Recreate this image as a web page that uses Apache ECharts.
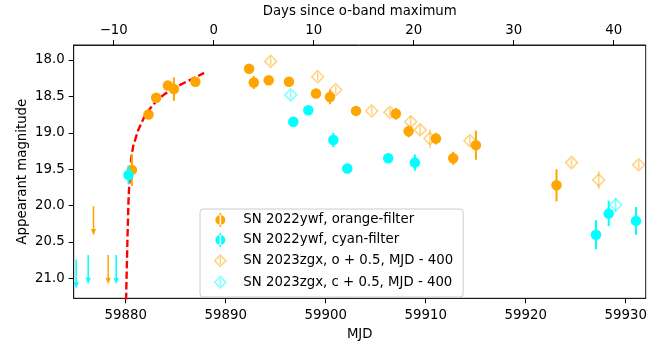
<!DOCTYPE html>
<html>
<head>
<meta charset="utf-8">
<script src="https://cdn.jsdelivr.net/npm/echarts@6/dist/echarts.min.js"></script>
<style>
  html, body { margin: 0; padding: 0; background: #ffffff; }
  #chart { width: 665px; height: 347px; }
</style>
</head>
<body>
<div id="chart"></div>
<script>
// ---- SN 2022ywf, orange filter (MJD, apparent magnitude, 1-sigma error) ----
const orangeMJD = [59880.62, 59882.28, 59883.05, 59884.22, 59884.82, 59886.97, 59892.34, 59892.81,
                   59894.30, 59896.33, 59899.03, 59900.43, 59903.03, 59907.02, 59908.29, 59911.02,
                   59912.75, 59915.02, 59923.08];
const orangeMag = [19.51, 18.75, 18.52, 18.35, 18.40, 18.30, 18.12, 18.31,
                   18.28, 18.30, 18.46, 18.51, 18.70, 18.74, 18.98, 19.08,
                   19.35, 19.17, 19.72];
const orangeErr = [0.22, 0.03, 0.03, 0.04, 0.16, 0.06, 0.06, 0.09,
                   0.03, 0.03, 0.03, 0.10, 0.03, 0.08, 0.08, 0.08,
                   0.09, 0.20, 0.22];

// ---- SN 2022ywf, cyan filter ----
const cyanMJD = [59880.28, 59896.76, 59898.26, 59900.76, 59902.16, 59906.25, 59908.92,
                 59927.03, 59928.30, 59931.03];
const cyanMag = [19.58, 18.85, 18.69, 19.10, 19.49, 19.35, 19.41, 20.40, 20.11, 20.21];
const cyanErr = [0.13, 0.03, 0.03, 0.10, 0.03, 0.05, 0.11, 0.20, 0.175, 0.19];

// ---- pre-explosion non-detections (upper limits) ----
const orangeLimMJD = [59876.78, 59878.25];
const orangeLimMag = [20.01, 20.68];
const cyanLimMJD = [59875.05, 59876.25, 59879.05];
const cyanLimMag = [20.74, 20.68, 20.68];
const limitArrowLength = 0.4; // magnitudes

// ---- SN 2023zgx, shifted by +0.5 mag and -400 d ----
const zgxOrangeMJD = [59894.50, 59899.20, 59901.00, 59904.60, 59906.42, 59908.50, 59909.45,
                      59910.42, 59914.42, 59924.58, 59927.30, 59931.30];
const zgxOrangeMag = [18.02, 18.23, 18.41, 18.70, 18.72, 18.85, 18.96,
                      19.08, 19.11, 19.41, 19.65, 19.44];
const zgxOrangeErr = [0.05, 0.05, 0.05, 0.05, 0.05, 0.07, 0.06,
                      0.13, 0.06, 0.05, 0.125, 0.06];
const zgxCyanMJD = [59896.50, 59929.00];
const zgxCyanMag = [18.48, 19.99];
const zgxCyanErr = [0.05, 0.10];

// ---- early-rise fit curve ----
const fitMJD = [59880.04, 59880.08, 59880.12, 59880.17, 59880.22, 59880.28, 59880.35, 59880.45,
                59880.58, 59880.75, 59880.95, 59881.25, 59881.58, 59881.95, 59882.42, 59882.95,
                59883.25, 59883.85, 59884.58, 59885.24, 59885.91, 59886.64, 59887.24, 59887.84];
const fitMag = [21.297, 21.024, 20.792, 20.479, 20.233, 19.933, 19.729, 19.524,
                19.319, 19.183, 19.094, 18.965, 18.862, 18.760, 18.671, 18.583,
                18.542, 18.473, 18.409, 18.357, 18.310, 18.262, 18.221, 18.177];

// ---- axes ----
const mjdRange = [59874.8, 59932.0];
const magRange = [17.795, 21.273];
const oBandMaxMJD = 59888.8;
const mjdTicks = [59880, 59890, 59900, 59910, 59920, 59930];
const dayTicks = [-10, 0, 10, 20, 30, 40];
const magTicks = [18.0, 18.5, 19.0, 19.5, 20.0, 20.5, 21.0];

const seriesNames = [
  'SN 2022ywf, orange-filter',
  'SN 2022ywf, cyan-filter',
  'SN 2023zgx, o + 0.5, MJD - 400',
  'SN 2023zgx, c + 0.5, MJD - 400'
];

const ORANGE = '#FFA500';
const CYAN = '#00FFFF';
const ORANGE_FADED = 'rgba(255,165,0,0.5)';
const CYAN_FADED = 'rgba(0,255,255,0.5)';
const FRAME = '#1a1a1a';
const FONT = 'DejaVu Sans';
const FS = 13.3;

const zip = (xs, ys) => xs.map((x, i) => [x, ys[i]]);

function errorBars(id, xs, ys, es, color, width, z) {
  return {
    id: id, type: 'custom', silent: true, z: z, clip: true, animation: false,
    data: xs.map((x, i) => [x, ys[i] - es[i], ys[i] + es[i]]),
    encode: { x: 0, y: [1, 2] },
    renderItem: function (params, api) {
      const a = api.coord([api.value(0), api.value(1)]);
      const b = api.coord([api.value(0), api.value(2)]);
      return {
        type: 'line',
        shape: { x1: a[0], y1: a[1], x2: b[0], y2: b[1] },
        style: { stroke: color, lineWidth: width }
      };
    }
  };
}

function limitArrows(id, xs, ys, color, z) {
  return {
    id: id, type: 'custom', silent: true, z: z, clip: true, animation: false,
    data: xs.map((x, i) => [x, ys[i], ys[i] + limitArrowLength]),
    encode: { x: 0, y: [1, 2] },
    renderItem: function (params, api) {
      const a = api.coord([api.value(0), api.value(1)]);
      const b = api.coord([api.value(0), api.value(2)]);
      const headLen = 6.5, halfW = 2.6;
      return {
        type: 'group',
        children: [
          { type: 'line', shape: { x1: a[0], y1: a[1], x2: b[0], y2: b[1] - headLen + 1 },
            style: { stroke: color, lineWidth: 1.5 } },
          { type: 'polygon',
            shape: { points: [[b[0] - halfW, b[1] - headLen], [b[0] + halfW, b[1] - headLen], [b[0], b[1]]] },
            style: { fill: color } }
        ]
      };
    }
  };
}

// legend glyphs: marker with a vertical error bar through it
const iconFilled = 'path://M-5,0A5,5 0 1,0 5,0A5,5 0 1,0 -5,0Z M-0.8,-7L0.8,-7L0.8,7L-0.8,7Z';
const iconOpen = 'path://M0,-7M0,7M0,-5.6L5.6,0L0,5.6L-5.6,0Z M0,-3.5L0,3.5';

const axisText = { fontFamily: FONT, fontSize: FS, color: '#000' };
const tickStyle = { color: '#000', width: 1 };
const frameLine = { show: true, onZero: false, lineStyle: { color: FRAME, width: 1 } };

const option = {
  animation: false,
  backgroundColor: '#ffffff',
  grid: {
    left: 73.7, right: 19.3, top: 43.3, bottom: 48.7,
    show: true, borderColor: FRAME, borderWidth: 1, backgroundColor: 'transparent'
  },
  xAxis: [
    {
      type: 'value', position: 'bottom', min: mjdRange[0], max: mjdRange[1],
      axisLine: frameLine, splitLine: { show: false },
      axisTick: { show: true, length: 5, lineStyle: tickStyle, customValues: mjdTicks },
      axisLabel: { customValues: mjdTicks, margin: 11, formatter: v => String(v), ...axisText },
      name: 'MJD', nameLocation: 'middle', nameGap: 29.5, nameMoveOverlap: false, nameTextStyle: axisText
    },
    {
      type: 'value', position: 'top',
      min: mjdRange[0] - oBandMaxMJD, max: mjdRange[1] - oBandMaxMJD,
      axisLine: frameLine, splitLine: { show: false },
      axisTick: { show: true, length: 5, lineStyle: tickStyle, customValues: dayTicks },
      axisLabel: { customValues: dayTicks, margin: 7.5, formatter: v => String(v).replace('-', '\u2212'), ...axisText },
      name: 'Days since o-band maximum', nameLocation: 'middle', nameGap: 27, nameMoveOverlap: false, nameTextStyle: axisText
    }
  ],
  yAxis: {
    type: 'value', inverse: true, min: magRange[0], max: magRange[1],
    axisLine: frameLine, splitLine: { show: false },
    axisTick: { show: true, length: 5, lineStyle: tickStyle, customValues: magTicks },
    axisLabel: { customValues: magTicks, margin: 9, formatter: v => v.toFixed(1), ...axisText },
    name: 'Appearant magnitude', nameLocation: 'middle', nameGap: 45, nameMoveOverlap: false, nameTextStyle: axisText
  },
  legend: {
    orient: 'vertical', left: 200, top: 209,
    padding: [4, 10, 7, 14], itemGap: 6, itemWidth: 36, itemHeight: 14,
    backgroundColor: 'rgba(255,255,255,0.8)', borderColor: '#cccccc', borderWidth: 1, borderRadius: 3,
    textStyle: { fontFamily: FONT, fontSize: FS, color: '#000' },
    selectedMode: false,
    data: [
      { name: seriesNames[0], icon: iconFilled, itemStyle: { color: ORANGE, borderWidth: 0 } },
      { name: seriesNames[1], icon: iconFilled, itemStyle: { color: CYAN, borderWidth: 0 } },
      { name: seriesNames[2], icon: iconOpen, itemStyle: { color: 'rgba(0,0,0,0)', borderColor: ORANGE_FADED, borderWidth: 1.5 } },
      { name: seriesNames[3], icon: iconOpen, itemStyle: { color: 'rgba(0,0,0,0)', borderColor: CYAN_FADED, borderWidth: 1.5 } }
    ]
  },
  series: [
    {
      id: 'fit', type: 'line', data: zip(fitMJD, fitMag), showSymbol: false, symbol: 'none',
      lineStyle: { color: '#ff0000', width: 2.4, type: [7.4, 3.2] }, z: 1, silent: true, clip: true
    },
    errorBars('orangeErr', orangeMJD, orangeMag, orangeErr, ORANGE, 2, 3),
    {
      name: seriesNames[0], type: 'scatter', data: zip(orangeMJD, orangeMag),
      symbol: 'circle', symbolSize: 10.5, itemStyle: { color: ORANGE, opacity: 1 }, z: 3, silent: true
    },
    limitArrows('orangeLim', orangeLimMJD, orangeLimMag, ORANGE, 3),
    errorBars('cyanErr', cyanMJD, cyanMag, cyanErr, CYAN, 2, 4),
    {
      name: seriesNames[1], type: 'scatter', data: zip(cyanMJD, cyanMag),
      symbol: 'circle', symbolSize: 10.5, itemStyle: { color: CYAN, opacity: 1 }, z: 4, silent: true
    },
    limitArrows('cyanLim', cyanLimMJD, cyanLimMag, CYAN, 4),
    errorBars('zgxOErr', zgxOrangeMJD, zgxOrangeMag, zgxOrangeErr, ORANGE_FADED, 1.5, 5),
    {
      name: seriesNames[2], type: 'scatter', data: zip(zgxOrangeMJD, zgxOrangeMag),
      symbol: 'diamond', symbolSize: 12,
      itemStyle: { color: 'rgba(0,0,0,0)', borderColor: ORANGE_FADED, borderWidth: 1.5, opacity: 1 }, z: 5, silent: true
    },
    errorBars('zgxCErr', zgxCyanMJD, zgxCyanMag, zgxCyanErr, CYAN_FADED, 1.5, 6),
    {
      name: seriesNames[3], type: 'scatter', data: zip(zgxCyanMJD, zgxCyanMag),
      symbol: 'diamond', symbolSize: 12,
      itemStyle: { color: 'rgba(0,0,0,0)', borderColor: CYAN_FADED, borderWidth: 1.5, opacity: 1 }, z: 6, silent: true
    }
  ]
};

const chart = echarts.init(document.getElementById('chart'), null, { renderer: 'canvas' });
chart.setOption(option);
</script>
</body>
</html>
